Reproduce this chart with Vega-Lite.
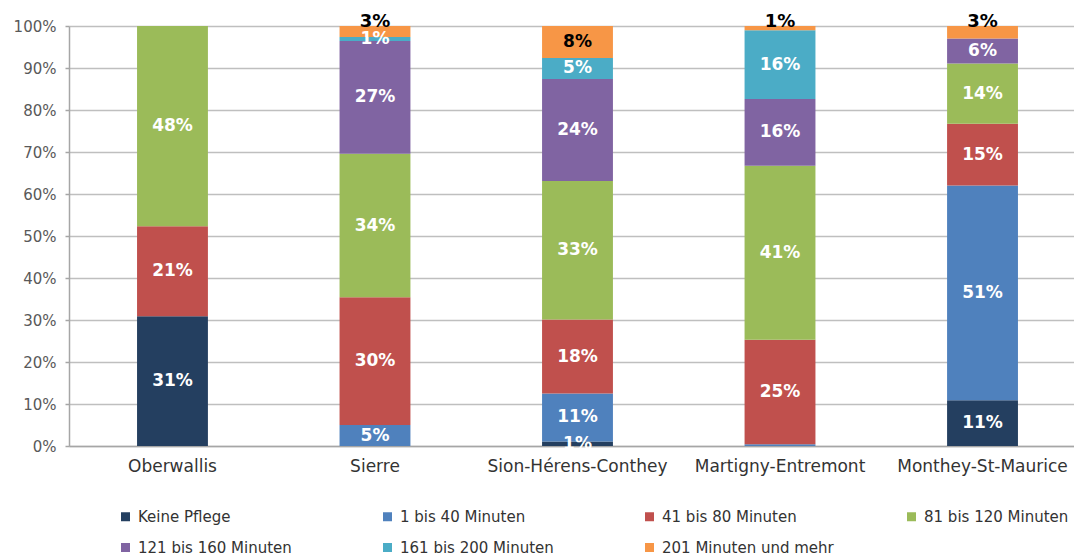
{
  "$schema": "https://vega.github.io/schema/vega-lite/v6.json",
  "width": 1005,
  "height": 420,
  "autosize": {"type": "none"},
  "padding": {"left": 69, "top": 26, "right": 0, "bottom": 109},
  "background": "white",
  "config": {
    "font": "DejaVu Sans",
    "view": {"stroke": null}
  },
  "data": {
    "values": [
      {"region": "Oberwallis", "cat": "Keine Pflege", "pct": 30.9},
      {"region": "Oberwallis", "cat": "41 bis 80 Minuten", "pct": 21.4},
      {"region": "Oberwallis", "cat": "81 bis 120 Minuten", "pct": 47.7},
      {"region": "Sierre", "cat": "1 bis 40 Minuten", "pct": 5.0},
      {"region": "Sierre", "cat": "41 bis 80 Minuten", "pct": 30.4},
      {"region": "Sierre", "cat": "81 bis 120 Minuten", "pct": 34.2},
      {"region": "Sierre", "cat": "121 bis 160 Minuten", "pct": 26.8},
      {"region": "Sierre", "cat": "161 bis 200 Minuten", "pct": 1.0},
      {"region": "Sierre", "cat": "201 Minuten und mehr", "pct": 2.6},
      {"region": "Sion-Hérens-Conthey", "cat": "Keine Pflege", "pct": 1.1},
      {"region": "Sion-Hérens-Conthey", "cat": "1 bis 40 Minuten", "pct": 11.4},
      {"region": "Sion-Hérens-Conthey", "cat": "41 bis 80 Minuten", "pct": 17.6},
      {"region": "Sion-Hérens-Conthey", "cat": "81 bis 120 Minuten", "pct": 33.0},
      {"region": "Sion-Hérens-Conthey", "cat": "121 bis 160 Minuten", "pct": 24.3},
      {"region": "Sion-Hérens-Conthey", "cat": "161 bis 200 Minuten", "pct": 5.0},
      {"region": "Sion-Hérens-Conthey", "cat": "201 Minuten und mehr", "pct": 7.6},
      {"region": "Martigny-Entremont", "cat": "1 bis 40 Minuten", "pct": 0.4},
      {"region": "Martigny-Entremont", "cat": "41 bis 80 Minuten", "pct": 24.9},
      {"region": "Martigny-Entremont", "cat": "81 bis 120 Minuten", "pct": 41.4},
      {"region": "Martigny-Entremont", "cat": "121 bis 160 Minuten", "pct": 15.9},
      {"region": "Martigny-Entremont", "cat": "161 bis 200 Minuten", "pct": 16.4},
      {"region": "Martigny-Entremont", "cat": "201 Minuten und mehr", "pct": 1.0},
      {"region": "Monthey-St-Maurice", "cat": "Keine Pflege", "pct": 10.9},
      {"region": "Monthey-St-Maurice", "cat": "1 bis 40 Minuten", "pct": 51.1},
      {"region": "Monthey-St-Maurice", "cat": "41 bis 80 Minuten", "pct": 14.7},
      {"region": "Monthey-St-Maurice", "cat": "81 bis 120 Minuten", "pct": 14.4},
      {"region": "Monthey-St-Maurice", "cat": "121 bis 160 Minuten", "pct": 5.9},
      {"region": "Monthey-St-Maurice", "cat": "201 Minuten und mehr", "pct": 3.0}
    ]
  },
  "transform": [
    {"calculate": "indexof(['Keine Pflege','1 bis 40 Minuten','41 bis 80 Minuten','81 bis 120 Minuten','121 bis 160 Minuten','161 bis 200 Minuten','201 Minuten und mehr'], datum.cat)", "as": "ord"},
    {"stack": "pct", "groupby": ["region"], "sort": [{"field": "ord", "order": "ascending"}], "as": ["p0", "p1"]},
    {"calculate": "(datum.p0 + datum.p1) / 2", "as": "mid"},
    {"calculate": "format(datum.pct, '.0f') + '%'", "as": "label"}
  ],
  "encoding": {
    "x": {
      "field": "region",
      "type": "nominal",
      "sort": ["Oberwallis", "Sierre", "Sion-Hérens-Conthey", "Martigny-Entremont", "Monthey-St-Maurice"],
      "scale": {"range": [0, 1017], "paddingInner": 0.65, "paddingOuter": 0.336},
      "axis": {
        "title": null,
        "labelAngle": 0,
        "labelFontSize": 17,
        "labelColor": "#333333",
        "labelPadding": 12,
        "ticks": false,
        "domainColor": "#a6a6a6",
        "domainWidth": 1.5,
        "grid": false
      }
    }
  },
  "layer": [
    {
      "mark": {"type": "bar"},
      "encoding": {
        "y": {
          "field": "p0",
          "type": "quantitative",
          "scale": {"domain": [0, 100], "nice": false},
          "axis": {
            "title": null,
            "values": [0, 10, 20, 30, 40, 50, 60, 70, 80, 90, 100],
            "labelExpr": "datum.value + '%'",
            "labelFontSize": 15,
            "labelColor": "#595959",
            "labelPadding": 9,
            "tickSize": 4,
            "tickColor": "#a6a6a6",
            "tickWidth": 1.5,
            "domainColor": "#a6a6a6",
            "domainWidth": 1.5,
            "grid": true,
            "gridColor": "#bfbfbf",
            "gridWidth": 1.5
          }
        },
        "y2": {"field": "p1"},
        "color": {
          "field": "cat",
          "type": "nominal",
          "scale": {
            "domain": ["Keine Pflege", "1 bis 40 Minuten", "41 bis 80 Minuten", "81 bis 120 Minuten", "121 bis 160 Minuten", "161 bis 200 Minuten", "201 Minuten und mehr"],
            "range": ["#243F60", "#4F81BD", "#C0504D", "#9BBB59", "#8064A2", "#4BACC6", "#F79646"]
          },
          "legend": {
            "title": null,
            "orient": "none",
            "legendX": 49,
            "legendY": 483,
            "direction": "horizontal",
            "columns": 4,
            "gridAlign": "all",
            "columnPadding": 70,
            "rowPadding": 15,
            "padding": 0,
            "symbolType": "square",
            "symbolSize": 81,
            "symbolStrokeWidth": 0,
            "labelFontSize": 15,
            "labelColor": "#333333",
            "labelLimit": 300,
            "labelOffset": 5
          }
        }
      }
    },
    {
      "transform": [
        {"filter": "datum.pct >= 0.8 && !(datum.cat == '201 Minuten und mehr' && datum.pct < 5)"}
      ],
      "mark": {"type": "text", "fontWeight": "bold", "fontSize": 17, "baseline": "middle", "align": "center"},
      "encoding": {
        "y": {"field": "mid", "type": "quantitative"},
        "text": {"field": "label", "type": "nominal"},
        "color": {
          "condition": {"test": "datum.cat == '201 Minuten und mehr'", "value": "#000000"},
          "value": "#ffffff"
        }
      }
    },
    {
      "transform": [
        {"filter": "datum.cat == '201 Minuten und mehr' && datum.pct < 5"}
      ],
      "mark": {"type": "text", "fontWeight": "bold", "fontSize": 18, "baseline": "alphabetic", "align": "center", "dy": 1, "color": "#000000"},
      "encoding": {
        "y": {"field": "p1", "type": "quantitative"},
        "text": {"field": "label", "type": "nominal"}
      }
    }
  ]
}
